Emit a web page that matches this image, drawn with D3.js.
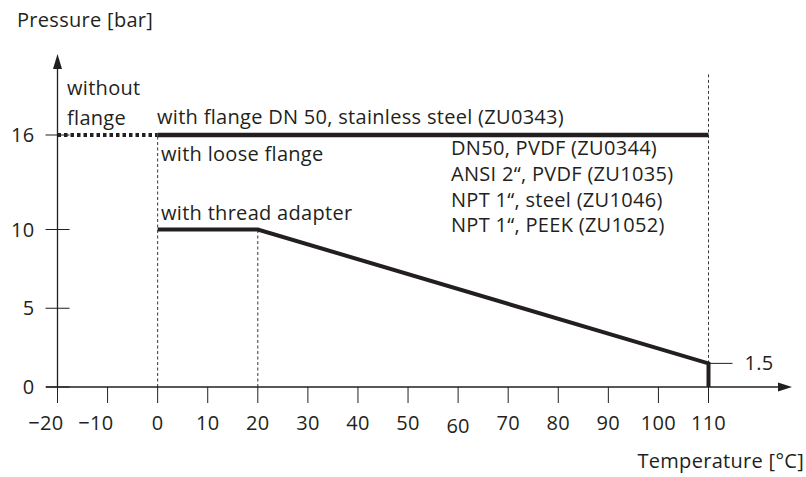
<!DOCTYPE html>
<html>
<head>
<meta charset="utf-8">
<script src="https://cdn.jsdelivr.net/npm/d3@7"></script>
<style>
  body { margin: 0; background: #fff; }
  svg { display: block; font-family: 'Open Sans', sans-serif; }
  text { fill: #231f20; font-size: 20px; letter-spacing: 0.3px; }
</style>
</head>
<body>
<script>
// data
var xTicks = [-20, -10, 0, 10, 20, 30, 40, 50, 60, 70, 80, 90, 100, 110]
var yTicks = [0, 5, 10, 16]
var withoutFlange = [[-20, 16], [0, 16]]
var withFlange = [[0, 16], [110, 16]]
var threadAdapter = [[0, 10], [20, 10], [110, 1.5], [110, 0]]
var guides = [[0, 0, 16], [20, 0, 10], [110, 1.5, 20]]
var fittings = ['DN50, PVDF (ZU0344)', 'ANSI 2\u201C, PVDF (ZU1035)',
  'NPT 1\u201C, steel (ZU1046)', 'NPT 1\u201C, PEEK (ZU1052)']

var width = 806
var height = 477
var ink = '#231f20'

var svg = d3.select('body').append('svg')
  .attr('width', width)
  .attr('height', height)

var x = d3.scaleLinear().domain([-20, 110]).range([57.5, 708.5])
var y = d3.scaleLinear().domain([0, 16]).range([387, 135])
var line = d3.line().x(function (d) { return x(d[0]) }).y(function (d) { return y(d[1]) })

// dashed guide lines
svg.selectAll('.guide').data(guides).enter().append('line')
  .attr('class', 'guide')
  .attr('x1', function (d) { return x(d[0]) })
  .attr('x2', function (d) { return x(d[0]) })
  .attr('y1', function (d) { return y(d[1]) })
  .attr('y2', function (d) { return y(d[2]) })
  .attr('stroke', ink)
  .attr('stroke-width', 0.9)
  .attr('stroke-dasharray', '3,2.5')

// axes with arrows
svg.append('line')
  .attr('x1', 46).attr('x2', 782)
  .attr('y1', y(0)).attr('y2', y(0))
  .attr('stroke', ink).attr('stroke-width', 1.3)
svg.append('path')
  .attr('d', 'M792,' + y(0) + 'L778,' + (y(0) - 4.5) + 'L778,' + (y(0) + 4.5) + 'Z')
  .attr('fill', ink)
svg.append('line')
  .attr('x1', x(-20)).attr('x2', x(-20))
  .attr('y1', y(0)).attr('y2', 66)
  .attr('stroke', ink).attr('stroke-width', 1.3)
svg.append('path')
  .attr('d', 'M' + x(-20) + ',54L' + (x(-20) - 4.5) + ',69L' + (x(-20) + 4.5) + ',69Z')
  .attr('fill', ink)

// x ticks
var xt = svg.selectAll('.xtick').data(xTicks).enter().append('g')
  .attr('class', 'xtick')
  .attr('transform', function (d) { return 'translate(' + x(d) + ',' + y(0) + ')' })
xt.append('line').attr('y1', 0).attr('y2', 16)
  .attr('stroke', ink).attr('stroke-width', 1)
// negative labels sit left of their tick in the original
xt.append('text')
  .attr('x', function (d) { return d < 0 ? 6 : 0 })
  .attr('y', function (d) { return d === 60 ? 46 : 43 })
  .attr('text-anchor', function (d) { return d < 0 ? 'end' : 'middle' })
  .text(function (d) { return d < 0 ? '\u2212' + Math.abs(d) : d })

// y ticks
var yt = svg.selectAll('.ytick').data(yTicks).enter().append('g')
  .attr('class', 'ytick')
  .attr('transform', function (d) { return 'translate(' + x(-20) + ',' + y(d) + ')' })
yt.append('line').attr('x1', -12).attr('x2', 12)
  .attr('stroke', ink).attr('stroke-width', 1)
yt.append('text')
  .attr('x', -23)
  .attr('dy', '0.35em')
  .attr('text-anchor', 'end')
  .text(function (d) { return d })

// pressure curves
svg.append('path').datum(withoutFlange)
  .attr('d', line).attr('fill', 'none')
  .attr('stroke', ink).attr('stroke-width', 4)
  .attr('stroke-dasharray', '3.5,3')
svg.append('path').datum(withFlange)
  .attr('d', line).attr('fill', 'none')
  .attr('stroke', ink).attr('stroke-width', 4.5)
svg.append('path').datum(threadAdapter)
  .attr('d', line).attr('fill', 'none')
  .attr('stroke', ink).attr('stroke-width', 4)

// 1.5 marker
svg.append('line')
  .attr('x1', x(110)).attr('x2', x(110) + 24)
  .attr('y1', y(1.5)).attr('y2', y(1.5))
  .attr('stroke', ink).attr('stroke-width', 1)
svg.append('text')
  .attr('x', x(110) + 36).attr('y', y(1.5)).attr('dy', '0.35em')
  .text('1.5')

// labels
function label (tx, ty, s, anchor) {
  svg.append('text').attr('x', tx).attr('y', ty)
    .attr('text-anchor', anchor || 'start').text(s)
}
label(17, 27, 'Pressure [bar]')
label(804, 468, 'Temperature [\u00B0C]', 'end')
label(67, 95, 'without')
label(67, 125, 'flange')
label(157, 124, 'with flange DN 50, stainless steel (ZU0343)')
label(161, 161, 'with loose flange')
label(161, 220, 'with thread adapter')
fittings.forEach(function (s, i) {
  label(451, 155 + i * 25.8, s)
})
</script>
</body>
</html>
